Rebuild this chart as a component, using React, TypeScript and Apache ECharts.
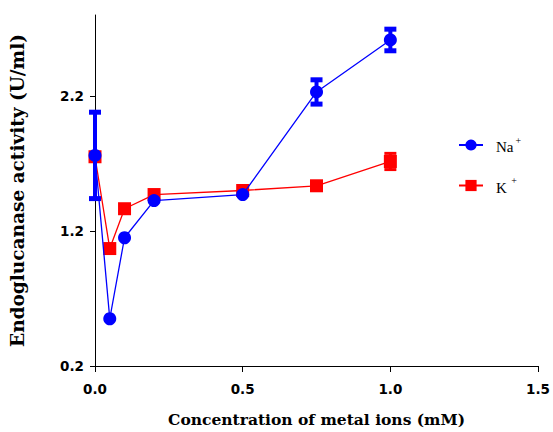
import React, { useEffect, useRef } from "react";
import * as echarts from "echarts";

const xValues = [0, 0.05, 0.1, 0.2, 0.5, 0.75, 1.0];
const naValues = [1.76, 0.55, 1.15, 1.425, 1.47, 2.23, 2.615];
const naErrors = [0.32, 0, 0, 0, 0, 0.09, 0.08];
const kValues = [1.75, 1.07, 1.365, 1.47, 1.5, 1.535, 1.715];
const kErrors = [0, 0, 0, 0, 0, 0, 0.06];
const yTicks = [0.2, 1.2, 2.2];
const seriesNames = ["Na+", "K+"];

const BLUE = "#0000ff";
const RED = "#ff0000";

function errData(vals: number[], errs: number[]) {
  return xValues
    .map((x, i) => [x, vals[i], errs[i]])
    .filter((d) => d[2] > 0);
}

function makeErrRender(color: string, stemW: number, capW: number, capH: number) {
  return (params: any, api: any) => {
    const x = api.value(0);
    const y = api.value(1);
    const e = api.value(2);
    const top = api.coord([x, y + e]);
    const bot = api.coord([x, y - e]);
    const hw = capW / 2;
    return {
      type: "group",
      children: [
        {
          type: "line",
          shape: { x1: top[0], y1: top[1], x2: bot[0], y2: bot[1] },
          style: { stroke: color, lineWidth: stemW },
        },
        {
          type: "line",
          shape: { x1: top[0] - hw, y1: top[1], x2: top[0] + hw, y2: top[1] },
          style: { stroke: color, lineWidth: capH },
        },
        {
          type: "line",
          shape: { x1: bot[0] - hw, y1: bot[1], x2: bot[0] + hw, y2: bot[1] },
          style: { stroke: color, lineWidth: capH },
        },
      ],
    };
  };
}

export default function App() {
  const ref = useRef<HTMLDivElement>(null);
  useEffect(() => {
    if (!ref.current) return;
    const chart = echarts.init(ref.current, undefined, { renderer: "svg" });
    const tickFont = {
      fontFamily: "DejaVu Sans",
      fontWeight: "bold" as const,
      fontSize: 13.5,
      color: "#000",
    };
    chart.setOption({
      animation: false,
      backgroundColor: "#fff",
      grid: { left: 95, right: 9, top: 15, bottom: 61, containLabel: false },
      legend: {
        data: seriesNames,
        orient: "vertical",
        left: 453,
        top: 130,
        itemWidth: 24,
        itemHeight: 14,
        itemGap: 21,
        formatter: (name: string) =>
          name === "Na+" ? "{n|Na}{s|+}" : "{n|K}{s| +}",
        textStyle: {
          rich: {
            n: {
              fontFamily: "Liberation Serif",
              fontSize: 15,
              color: "#000",
              lineHeight: 20,
              padding: [4, 0, 0, 8],
            },
            s: {
              fontFamily: "Liberation Serif",
              fontSize: 10,
              color: "#000",
              verticalAlign: "top",
              padding: [0, 0, 0, 2],
            },
          },
        },
      },
      xAxis: {
        type: "value",
        min: 0,
        max: 1.5,
        interval: 0.5,
        splitLine: { show: false },
        axisLine: { show: true, onZero: false, lineStyle: { color: "#000", width: 1 } },
        axisTick: { show: true, length: 6, lineStyle: { color: "#000" } },
        axisLabel: { ...tickFont, margin: 16, formatter: (v: number) => v.toFixed(1) },
        name: "Concentration of metal ions (mM)",
        nameLocation: "middle",
        nameGap: 45,
        nameTextStyle: {
          fontFamily: "DejaVu Serif",
          fontWeight: "bold",
          fontSize: 15.5,
          color: "#000",
        },
      },
      yAxis: {
        type: "value",
        min: 0.2,
        max: 2.8,
        splitLine: { show: false },
        axisLine: { show: true, onZero: false, lineStyle: { color: "#000", width: 1 } },
        axisTick: { show: true, length: 5, customValues: yTicks, lineStyle: { color: "#000" } },
        axisLabel: {
          ...tickFont,
          margin: 11,
          customValues: yTicks,
          formatter: (v: number) => v.toFixed(1),
        },
        name: "Endoglucanase activity (U/ml)",
        nameLocation: "middle",
        nameRotate: 90,
        nameGap: 68,
        nameTextStyle: {
          fontFamily: "DejaVu Serif",
          fontWeight: "bold",
          fontSize: 18.5,
          color: "#000",
        },
      },
      series: [
        {
          name: "K+",
          type: "line",
          data: xValues.map((x, i) => [x, kValues[i]]),
          symbol: "rect",
          symbolSize: 13,
          clip: false,
          itemStyle: { color: RED },
          lineStyle: { color: RED, width: 1.3 },
          z: 2,
        },
        {
          name: "K err",
          type: "custom",
          data: errData(kValues, kErrors),
          encode: { x: 0, y: 1 },
          renderItem: makeErrRender(RED, 3, 12, 3),
          clip: false,
          z: 2,
        },
        {
          name: "Na+",
          type: "line",
          data: xValues.map((x, i) => [x, naValues[i]]),
          symbol: "circle",
          symbolSize: 13,
          clip: false,
          itemStyle: { color: BLUE },
          lineStyle: { color: BLUE, width: 1.3 },
          z: 3,
        },
        {
          name: "Na err",
          type: "custom",
          data: errData(naValues, naErrors),
          encode: { x: 0, y: 1 },
          renderItem: makeErrRender(BLUE, 4, 12, 5),
          clip: false,
          z: 4,
        },
      ],
    });
    return () => chart.dispose();
  }, []);
  return (
    <div
      ref={ref}
      style={{ position: "fixed", left: 0, top: 0, width: 553, height: 432, background: "#fff" }}
    />
  );
}
